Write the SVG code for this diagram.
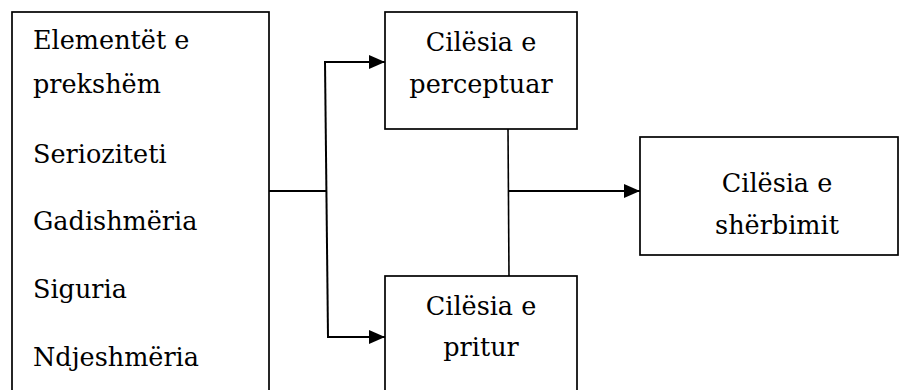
<svg xmlns="http://www.w3.org/2000/svg" width="902" height="390" viewBox="0 0 902 390">
  <style>
    .box { fill: #fff; stroke: #000; stroke-width: 1.7; }
    .lbl { font-family: "DejaVu Serif", "Liberation Serif", serif; font-size: 25.5px; fill: #000; }
    .mid { text-anchor: middle; }
    .wire { fill: none; stroke: #000; stroke-width: 2; }
  </style>
  <defs>
    <marker id="arrow" viewBox="0 0 16 14" refX="16" refY="7" markerWidth="16" markerHeight="14" markerUnits="userSpaceOnUse" orient="auto">
      <path d="M0,0 L16,7 L0,14 Z" fill="#000"/>
    </marker>
  </defs>

  <!-- service quality dimensions -->
  <g id="dimensions">
    <rect class="box" x="12" y="12" width="257" height="390"/>
    <text class="lbl" x="33" y="49">Elementët e</text>
    <text class="lbl" x="33" y="93">prekshëm</text>
    <text class="lbl" x="33" y="163">Serioziteti</text>
    <text class="lbl" x="33" y="230">Gadishmëria</text>
    <text class="lbl" x="33" y="298">Siguria</text>
    <text class="lbl" x="33" y="366">Ndjeshmëria</text>
  </g>

  <g id="perceived">
    <rect class="box" x="385" y="12" width="192" height="117"/>
    <text class="lbl mid" x="481" y="51">Cilësia e</text>
    <text class="lbl mid" x="481" y="93">perceptuar</text>
  </g>

  <g id="expected">
    <rect class="box" x="385" y="276" width="192" height="130"/>
    <text class="lbl mid" x="481" y="315">Cilësia e</text>
    <text class="lbl mid" x="481" y="356">pritur</text>
  </g>

  <g id="service">
    <rect class="box" x="640" y="137" width="258" height="118"/>
    <text class="lbl mid" x="777" y="192">Cilësia e</text>
    <text class="lbl mid" x="777" y="234">shërbimit</text>
  </g>

  <g id="connectors">
    <line class="wire" x1="269" y1="191" x2="326" y2="191"/>
    <line class="wire" x1="325" y1="62" x2="328" y2="337"/>
    <line class="wire" x1="324" y1="62" x2="385" y2="62" marker-end="url(#arrow)"/>
    <line class="wire" x1="327" y1="337" x2="385" y2="337" marker-end="url(#arrow)"/>
    <line class="wire" x1="508" y1="129" x2="509" y2="276" style="stroke-width:1.6"/>
    <line class="wire" x1="508" y1="191" x2="640" y2="191" marker-end="url(#arrow)"/>
  </g>
</svg>
